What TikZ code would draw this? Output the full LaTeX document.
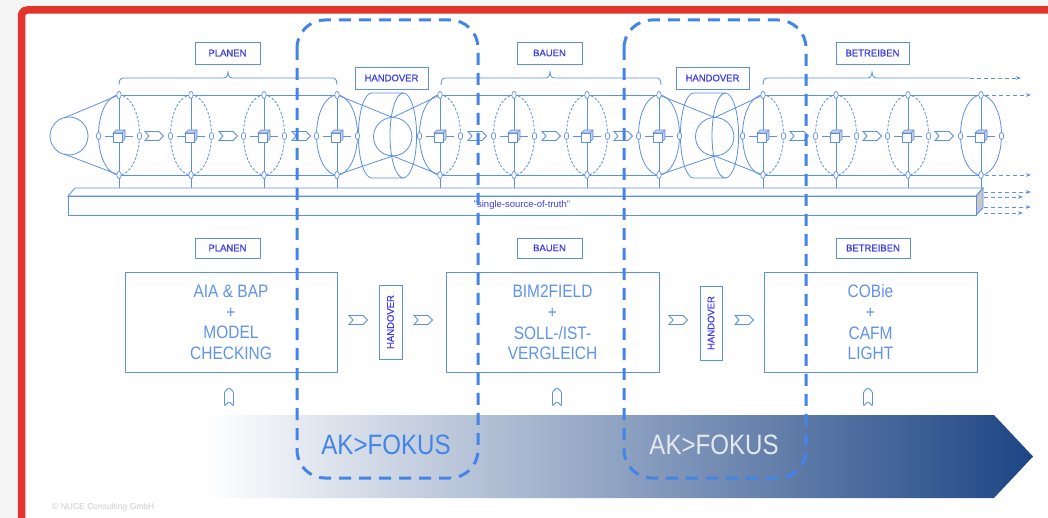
\documentclass[tikz,border=0pt]{standalone}
\usepackage{fontspec}
\setmainfont{Liberation Sans}
\newfontfamily\narrowfont[FakeStretch=0.86]{Liberation Sans}
\newfontfamily\lblfont[FakeBold=0.5]{Liberation Sans}
\usetikzlibrary{arrows.meta}
\definecolor{ln}{HTML}{5C8FE8}
\definecolor{lbl}{HTML}{3B3BEF}
\definecolor{dshc}{HTML}{4384E6}
\definecolor{redf}{HTML}{E3342B}
\definecolor{navy}{HTML}{1D4584}
\definecolor{txtb}{HTML}{6093EC}
\definecolor{cubeg}{HTML}{C9D1DE}
\begin{document}
\begin{tikzpicture}[x=1pt,y=-1pt,
  thinline/.style={ln, line width=0.8pt},
  dotline/.style={dash pattern=on 2.6pt off 1.6pt},
  lblbox/.style={draw=ln, line width=0.9pt, text=lbl, font=\lblfont\fontsize{9.5}{10}\selectfont, inner sep=0pt, minimum height=22pt},
  mainbox/.style={draw=ln, line width=0.9pt, minimum width=212pt, minimum height=100pt, inner sep=0pt},
  maintext/.style={text=txtb, align=center, font=\narrowfont\fontsize{18}{20.7}\selectfont},
  chev/.style={draw=ln, line width=0.9pt, fill=white},
  marker/.style={draw=ln, line width=0.7pt, fill=white},
  focus/.style={draw=dshc, line width=3pt, dash pattern=on 12pt off 8pt, rounded corners=28pt},
  dasharrow/.style={ln, line width=0.8pt, dash pattern=on 4pt off 3pt, -{Stealth[length=5pt,width=3.5pt]}},
]
\useasboundingbox (0,0) rectangle (1048,518);
% background and frame
\fill[black!4] (0,0) rectangle (1048,518);
\fill[white] (25,14) rectangle (1048,518);
\draw[redf, line width=7.5pt, rounded corners=6pt] (21.5,530) -- (21.5,10) -- (1060,10);

% gradient arrow
\shade[left color=white, right color=navy] (205,415) -- (994,415) -- (1033,456.5) -- (994,498) -- (205,498) -- cycle;
\node[text=dshc, font=\narrowfont\fontsize{28}{30}\selectfont] (ak1) at (386,445) {AK>FOKUS};
\node[text=white!88!navy, font=\narrowfont\fontsize{28}{30}\selectfont] (ak2) at (714,445) {AK>FOKUS};

% top label boxes
\node[lblbox, minimum width=65pt] (tp) at (227.5,53) {PLANEN};
\node[lblbox, minimum width=65pt] (tb) at (549.5,53) {BAUEN};
\node[lblbox, minimum width=73pt] (tbe) at (872.5,53) {BETREIBEN};
\node[lblbox, minimum width=73pt] (th1) at (391.5,78) {HANDOVER};
\node[lblbox, minimum width=73pt] (th2) at (712.5,78) {HANDOVER};

% braces
\foreach \a/\t/\b in {119/228/337, 441/550/661}{
  \draw[thinline] (\a,85) to[out=90,in=180] (\a+4,78) -- (\t-4,78) to[out=0,in=-90] (\t,71) to[out=-90,in=180] (\t+4,78) -- (\b-4,78) to[out=0,in=90] (\b,85);
}
\draw[thinline] (763,85) to[out=90,in=180] (767,78) -- (868,78) to[out=0,in=-90] (872,71) to[out=-90,in=180] (876,78) -- (970,78);
\draw[dasharrow] (970,78) -- (1021,78);

% cone at start
\draw[thinline] (69,136) circle[radius=19pt];
\draw[thinline] (64,118) -- (119,95);
\draw[thinline] (64,154) -- (119,175);

% tube lines
\foreach \a/\b in {119/337, 440/659, 763/981}{
  \draw[thinline] (\a,95) -- (\b,95);
  \draw[thinline] (\a,175) -- (\b,175);
}
\draw[dasharrow] (985,95) -- (1031,95);
\draw[dasharrow] (985,175) -- (1031,175);

% drops to bar
\foreach \x in {119,191,264,337,440,514,587,659,763,836,908,981}
  \draw[thinline] (\x,175) -- (\x,188);

% bar
\draw[thinline, fill=white] (68,196) -- (75,188) -- (983,188) -- (976,196) -- cycle;
\draw[thinline, fill=black!22] (976,196) -- (983,188) -- (983,208) -- (976,215) -- cycle;
\node[draw=ln, line width=0.8pt, fill=white, minimum width=908pt, minimum height=19pt, inner sep=0pt, text=lbl, font=\fontsize{9.5}{10}\selectfont] (sst) at (522,205.5) {"single-source-of-truth"};
\draw[dasharrow] (984,192) -- (1031,192);
\draw[dasharrow] (984,197) -- (1023,197);
\draw[dasharrow] (984,207) -- (1031,207);
\draw[dasharrow] (984,213) -- (1023,213);

% handover cylinders
\foreach \d/\e in {337/440, 659/763}{
  \draw[thinline] (\d+66.3,93) -- (\d+34.7,93) arc[start angle=90,end angle=270,x radius=13.3pt,y radius=42.5pt] -- (\d+66.3,178);
  \draw[thinline] (\d+66.3,135.5) ellipse[x radius=13.3pt,y radius=42.5pt];
  \draw[thinline] (\d+55.7,136.7) circle[radius=19.2pt];
  \draw[thinline] (\d,95) -- (\d+55.7,117.5) -- (\e,95);
  \draw[thinline] (\d,175) -- (\d+55.7,156) -- (\e,175);
}

% discs
\foreach \x/\lft/\rgt in {119/solid/dotline, 191/dotline/dotline, 264/dotline/dotline, 337/solid/solid, 440/solid/dotline, 514/dotline/dotline, 587/dotline/dotline, 659/solid/solid, 763/solid/dotline, 836/dotline/dotline, 908/dotline/dotline, 981/solid/solid}{
  \draw[thinline, \lft] (\x,95) arc[start angle=90,end angle=270,x radius=20.5pt,y radius=40pt];
  \draw[thinline, \rgt] (\x,95) arc[start angle=90,end angle=-90,x radius=20.5pt,y radius=40pt];
  \draw[thinline] (\x,97) -- (\x,173);
  \draw[thinline] (\x-14,136) -- (\x+14,136);
  \filldraw[ln, line width=0.6pt, fill=cubeg] (\x-6,133) -- (\x-3,130) -- (\x+6,130) -- (\x+6,139) -- (\x+3,142) -- (\x+3,133) -- cycle;
  \filldraw[ln, line width=0.6pt, fill=white] (\x-6,133) rectangle (\x+3,142);
  \draw[ln, line width=0.6pt] (\x+3,133) -- (\x+6,130);
  \draw[marker] (\x,95) ellipse[x radius=2.2pt,y radius=3.6pt];
  \draw[marker] (\x,175) ellipse[x radius=2.2pt,y radius=3.6pt];
  \draw[marker] (\x-20.5,136) ellipse[x radius=2.2pt,y radius=3.6pt];
  \draw[marker] (\x+20.5,136) ellipse[x radius=2.2pt,y radius=3.6pt];
}

% chevrons top
\foreach \x in {145,219,292,468,542,614,790,863,935}
  \draw[chev] (\x,131.5) -- (\x+14,131.5) -- (\x+18.5,136) -- (\x+14,140.5) -- (\x,140.5) -- (\x+4,136) -- cycle;

% bottom section
\node[lblbox, minimum width=65pt, minimum height=20pt] (bp) at (227.5,248) {PLANEN};
\node[lblbox, minimum width=65pt, minimum height=20pt] (bb) at (549.5,248) {BAUEN};
\node[lblbox, minimum width=74pt, minimum height=20pt] (bbe) at (873,248) {BETREIBEN};

\node[mainbox] (m1) at (231,322) {};
\node[mainbox, minimum width=213pt] (m2) at (552.5,322) {};
\node[mainbox, minimum width=213pt] (m3) at (870.5,322) {};
\node[maintext] (t1) at (231,322.5) {AIA \& BAP\\+\\MODEL\\CHECKING};
\node[maintext] (t2) at (552.5,322.5) {BIM2FIELD\\+\\SOLL-/IST-\\VERGLEICH};
\node[maintext] (t3) at (870.5,322.5) {COBie\\+\\CAFM\\LIGHT};

\node[lblbox, rotate=90, minimum width=74pt, minimum height=23pt] (h1) at (390.5,322) {HANDOVER};
\node[lblbox, rotate=90, minimum width=74pt, minimum height=22pt] (h2) at (711,323) {HANDOVER};

\foreach \x in {349,414,669,735}
  \draw[chev] (\x,315.5) -- (\x+14,315.5) -- (\x+18.5,320) -- (\x+14,324.5) -- (\x,324.5) -- (\x+4,320) -- cycle;

\foreach \x in {229,557,868}
  \draw[thinline, rounded corners=1pt] (\x-4.5,406) -- (\x-4.5,392) -- (\x,387.5) -- (\x+4.5,392) -- (\x+4.5,406) -- (\x,401.5) -- cycle;

% copyright
\node[anchor=west, text=black!20, font=\fontsize{8.5}{9}\selectfont, inner sep=0pt] (copy) at (52,507) {© NUCE Consulting GmbH};

% focus frames
\draw[focus] (297,20) rectangle (478,478);
\draw[focus] (624,20) rectangle (806,478);
\end{tikzpicture}
\end{document}
